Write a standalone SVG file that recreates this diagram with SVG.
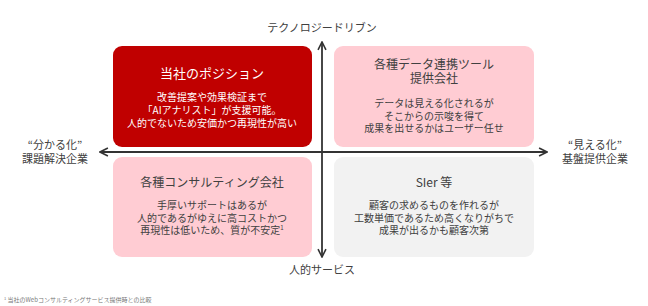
<svg xmlns="http://www.w3.org/2000/svg" width="648" height="306" viewBox="0 0 648 306">
<style>
text{font-family:"Noto Sans CJK JP","Noto Sans",sans-serif;text-anchor:middle}
.t{font-size:12px;fill:#404040}
.b{font-size:10px;fill:#404040}
.w{fill:#ffffff}
.lab{font-size:11px;fill:#404040}
.ax{stroke:#333;stroke-width:1.8;fill:none}
</style>
<defs>
<marker id="ah" viewBox="0 0 10 10" refX="9" refY="5" markerWidth="5.5" markerHeight="5.5" orient="auto" markerUnits="strokeWidth">
<path d="M1,1 L9,5 L1,9" fill="none" stroke="#333" stroke-width="1.6"/>
</marker>
</defs>
<rect width="648" height="306" fill="#fff"/>
<g id="n-own">
<rect x="113" y="46" width="199" height="101" rx="9" fill="#c00000"/>
<text x="212" y="78" class="t w" style="font-size:13px">当社のポジション</text>
<text class="b w"><tspan x="212" y="101">改善提案や効果検証まで</tspan><tspan x="212" y="114">「AIアナリスト」が支援可能。</tspan><tspan x="212" y="127">人的でないため安価かつ再現性が高い</tspan></text>
</g>
<g id="n-tool">
<rect x="334" y="46" width="200" height="101" rx="9" fill="#ffccd3"/>
<text class="t"><tspan x="434" y="69">各種データ連携ツール</tspan><tspan x="434" y="83">提供会社</tspan></text>
<text class="b"><tspan x="434" y="107">データは見える化されるが</tspan><tspan x="434" y="119.5">そこからの示唆を得て</tspan><tspan x="434" y="132">成果を出せるかはユーザー任せ</tspan></text>
</g>
<g id="n-consul">
<rect x="113" y="157" width="199" height="100" rx="9" fill="#ffccd3"/>
<text x="212" y="187" class="t">各種コンサルティング会社</text>
<text class="b"><tspan x="212" y="209">手厚いサポートはあるが</tspan><tspan x="212" y="221.5">人的であるがゆえに高コストかつ</tspan><tspan x="212" y="234">再現性は低いため、質が不安定</tspan><tspan dy="-4" style="font-size:6px">1</tspan></text>
</g>
<g id="n-sier">
<rect x="334" y="157" width="200" height="100" rx="9" fill="#f2f2f2"/>
<text x="434" y="187" class="t">SIer 等</text>
<text class="b"><tspan x="434" y="209">顧客の求めるものを作れるが</tspan><tspan x="434" y="221.5">工数単価であるため高くなりがちで</tspan><tspan x="434" y="234">成果が出るかも顧客次第</tspan></text>
</g>
<g id="connectors">
<line x1="322" y1="152" x2="322" y2="42" class="ax" marker-end="url(#ah)"/>
<line x1="322" y1="152" x2="322" y2="257" class="ax" marker-end="url(#ah)"/>
<line x1="322" y1="152" x2="100" y2="152" class="ax" marker-end="url(#ah)"/>
<line x1="322" y1="152" x2="547" y2="152" class="ax" marker-end="url(#ah)"/>
</g>
<g id="labels">
<text x="322" y="32" class="lab">テクノロジードリブン</text>
<text x="322" y="274" class="lab">人的サービス</text>
<text class="lab"><tspan x="55" y="149">“分かる化”</tspan><tspan x="55" y="163">課題解決企業</tspan></text>
<text class="lab"><tspan x="595" y="149">“見える化”</tspan><tspan x="595" y="163">基盤提供企業</tspan></text>
<text x="4" y="302" style="font-size:6px;fill:#777;text-anchor:start"><tspan dy="-2" style="font-size:4px">1</tspan><tspan dy="2"> 当社のWebコンサルティングサービス提供時との比較</tspan></text>
</g>
</svg>
